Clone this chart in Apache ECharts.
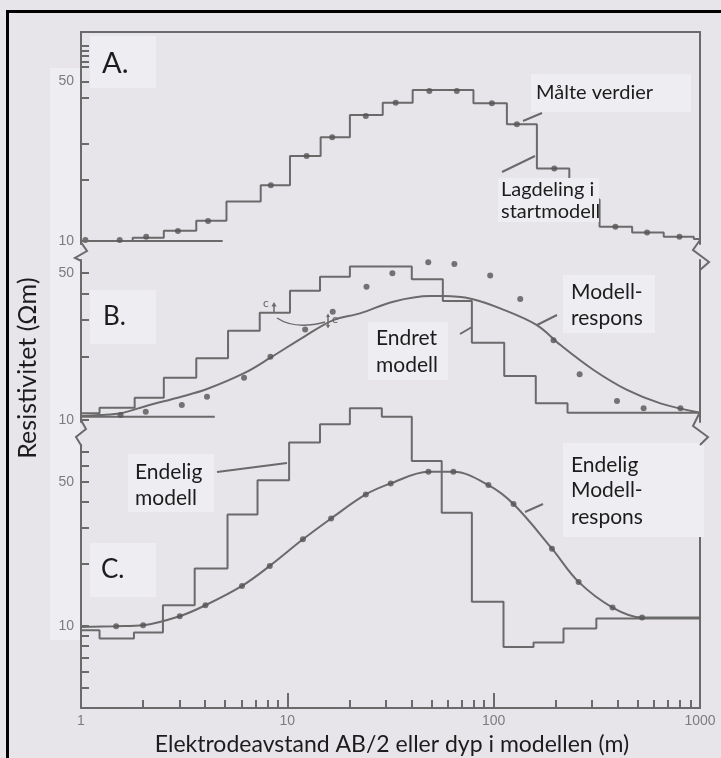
<!DOCTYPE html>
<html><head><meta charset="utf-8">
<script src="https://cdn.jsdelivr.net/npm/echarts@6/dist/echarts.min.js"></script>
<style>html,body{margin:0;padding:0;background:#e7e5ea;} #c{width:721px;height:758px;}</style>
</head><body><div id="c"></div>
<script>
// ---------- data ----------
const xTickMinor = [2,3,4,5,6,7,8,9,20,30,40,50,60,70,80,90,200,300,400,500,600,700,800,900];
const xTickMajor = [10,100];
const xTickLabels = [1,10,100,1000];

const aTicks = [10,18.5,26.8,42.3,50,57.8,61.1,64.8,68.3,71.9];
const bTicks = [10,20,30,40,50];
const cTicks = [5,6,7,8,9,10,20,30,40,50,60,70];
const yTickLabels = [10,50];

// Panel A: measured values and starting model
const aMeasX = [1.05,1.54,2.07,2.95,4.13,8.32,12.4,16.5,24.0,33.5,48.8,66.3,98.0,129.6,196.7,265,389,554,795];
const aMeasY = [10.1,10.1,10.44,11.06,12.24,17.55,23.6,28.5,35.3,40.4,45.5,45.5,40.2,32.5,20.8,15.2,11.55,10.9,10.44];
const aModelX = [1,1.78,2.52,3.62,5.07,7.43,10.3,14.5,20.1,29.0,40.5,79.8,115.9,162,232.6,326,469,667,933,1000];
const aModelY = [10,10.34,11.1,12.27,14.9,17.55,23.6,28.5,35.7,40.4,45.9,40.2,32.5,20.8,15.2,11.55,10.9,10.44,10.2,10.2];
const aBaseX = [1,4.86];
const aBaseY = [10,10];

// Panel B: measured values, changed model, model response
const bMeasX = [1.555,2.06,3.08,4.08,6.17,8.28,12.2,16.6,24.2,32.3,48.2,64.5,96.2,134.5,195,261,396,533,804];
const bMeasY = [10.56,10.95,11.79,12.91,15.9,20.0,27.0,32.8,43.1,50.0,56.4,55.3,48.7,37.7,24.0,16.5,12.3,11.37,11.37];
const bModelX = [1,1.23,1.82,2.52,3.62,5.16,7.35,10.3,14.4,20.1,40.1,56.7,78.4,112.5,160,228,1000];
const bModelY = [10.76,11.44,12.77,15.9,19.67,26.6,32.4,41.3,48.1,53.8,46.8,36.9,23.3,16.2,12.0,10.83,10.83];
const bBaseX = [1,4.45];
const bBaseY = [10.37,10.37];
const bCurveX = [1,1.23,1.555,2.07,3.06,4.05,6.17,8.28,12.2,16.7,22.5,32.6,49.2,57.1,78.4,107.5,162,210,305,443,643,1000];
const bCurveY = [10.45,10.56,10.76,11.66,12.91,14.0,16.7,19.8,25.1,29.9,32.2,36.6,38.9,38.9,37.7,34.0,28.3,22.8,17.3,13.9,12.0,10.83];

// Panel C: final model and final model response
const cMeasX = [1.48,2.0,3.01,4.01,6.03,8.22,11.9,16.3,24.0,31.7,48.3,63.8,94.3,124.8,191.7,258,377,524];
const cMeasY = [9.97,10.08,11.15,12.6,15.64,19.55,26.3,33.2,43.4,49.1,55.9,55.9,48.2,39.0,23.7,16.35,12.28,10.98];
const cModelX = [1,1.23,1.805,2.495,3.556,5.13,7.17,10.2,14.4,20.1,28.7,40.1,56.0,78.4,111.6,156,218,314.5,1000];
const cModelY = [9.53,8.68,9.29,12.6,19.0,34.7,50.9,77.6,95.0,113.6,103.4,63.0,35.4,13.1,7.91,8.31,9.71,10.86,10.86];
const cCurveX = [1,1.48,2.0,3.01,4.01,6.03,8.22,11.9,16.3,24.0,31.7,48.3,63.8,94.3,124.8,191.7,258,377,524,1000];
const cCurveY = [9.89,9.97,10.08,11.15,12.6,15.64,19.55,26.3,33.2,43.4,49.1,55.9,55.9,48.2,39.0,23.7,16.35,12.28,10.98,10.98];

// ---------- styling ----------
const LINE = '#6a6a6a';
const DOT = '#555555';
const LBL = '#7c7c7c';
const TXT = '#1c1c1c';
const BOX = '#eeedf1';
const FONT = 'Lato, "Open Sans", sans-serif';
const NUMFONT = '"Liberation Sans", Arial, sans-serif';
const pairs = (xs, ys) => xs.map((x, i) => [x, ys[i]]);

const grids = [
  {left: 81, right: 21, top: 32, height: 212},
  {left: 81, right: 21, top: 260, height: 162},
  {left: 81, right: 21, top: 445, height: 263}
];
const yRanges = [[9.70, 82.5], [9.78, 57.8], [4, 75.4]];
const yTicks = [aTicks, bTicks, cTicks];

const xAxes = [
  {gridIndex: 0, type: 'log', logBase: 10, min: 1, max: 1000, position: 'top', z: 10,
   axisLine: {show: true, lineStyle: {color: LINE, width: 2}}, axisTick: {show: false}, axisLabel: {show: false}, splitLine: {show: false}},
  {gridIndex: 1, type: 'log', logBase: 10, min: 1, max: 1000, show: false},
  {gridIndex: 2, type: 'log', logBase: 10, min: 1, max: 1000, position: 'bottom', z: 10,
   axisLine: {show: true, lineStyle: {color: LINE, width: 2}},
   axisTick: {show: true, inside: true, length: 8, customValues: xTickMinor, lineStyle: {color: LINE, width: 2}},
   axisLabel: {show: false}, splitLine: {show: false}, minorTick: {show: false}},
  {gridIndex: 2, type: 'log', logBase: 10, min: 1, max: 1000, position: 'bottom', z: 10,
   axisLine: {show: false},
   axisTick: {show: true, inside: true, length: 15, customValues: xTickMajor, lineStyle: {color: LINE, width: 2}},
   axisLabel: {show: true, customValues: xTickLabels, formatter: v => String(Math.round(v)), color: LBL, fontFamily: NUMFONT, fontSize: 14, margin: 6},
   splitLine: {show: false}}
];

const yAxes = [];
for (let g = 0; g < 3; g++) {
  yAxes.push({gridIndex: g, type: 'log', logBase: 10, min: yRanges[g][0], max: yRanges[g][1], position: 'left', z: 10,
    axisLine: {show: true, lineStyle: {color: LINE, width: 2}},
    axisTick: {show: true, inside: true, length: 8, customValues: yTicks[g], lineStyle: {color: LINE, width: 2}},
    axisLabel: {show: true, customValues: yTickLabels, formatter: v => String(Math.round(v)), color: LBL, fontFamily: NUMFONT, fontSize: 14, margin: 7},
    splitLine: {show: false}, minorTick: {show: false}});
  yAxes.push({gridIndex: g, type: 'log', logBase: 10, min: yRanges[g][0], max: yRanges[g][1], position: 'right', z: 10,
    axisLine: {show: true, lineStyle: {color: LINE, width: 2}},
    axisTick: {show: false}, axisLabel: {show: false}, splitLine: {show: false}});
}

const lineS = (xi, yi, data, extra) => Object.assign({
  type: 'line', xAxisIndex: xi, yAxisIndex: yi, data, showSymbol: false, symbol: 'none',
  lineStyle: {color: LINE, width: 2}, itemStyle: {color: LINE}, silent: true, animation: false
}, extra || {});
const dotS = (xi, yi, data) => ({
  type: 'scatter', xAxisIndex: xi, yAxisIndex: yi, data, symbol: 'circle', symbolSize: 6,
  itemStyle: {color: DOT}, silent: true, animation: false, z: 5
});

const series = [
  lineS(0, 0, pairs(aBaseX, aBaseY)),
  lineS(0, 0, pairs(aModelX, aModelY), {step: 'end'}),
  dotS(0, 0, pairs(aMeasX, aMeasY)),
  lineS(1, 2, pairs(bBaseX, bBaseY)),
  lineS(1, 2, pairs(bModelX, bModelY), {step: 'end'}),
  lineS(1, 2, pairs(bCurveX, bCurveY), {smooth: 0.35}),
  dotS(1, 2, pairs(bMeasX, bMeasY)),
  lineS(2, 4, pairs(cModelX, cModelY), {step: 'end', clip: false}),
  lineS(2, 4, pairs(cCurveX, cCurveY), {smooth: 0.35}),
  dotS(2, 4, pairs(cMeasX, cMeasY))
];

// ---------- annotations ----------
const txt = (text, x, y, size, extra) => ({type: 'text', x, y, z: 110,
  style: Object.assign({text, fill: TXT, font: size + 'px ' + FONT, verticalAlign: 'middle', align: 'left'}, extra || {})});
const box = (x, y, w, h) => ({type: 'rect', z: 100, shape: {x, y, width: w, height: h}, style: {fill: BOX}});
const seg = (pts, w) => ({type: 'polyline', z: 110, shape: {points: pts}, style: {stroke: LINE, lineWidth: w || 2, fill: null}});

const graphic = [
  {type: 'rect', z: -10, zlevel: 0, shape: {x: 50, y: 68, width: 30, height: 572}, style: {fill: BOX}},
  box(90, 36, 66, 52), txt('A.', 102, 64, 29),
  box(90, 290, 66, 54), txt('B.', 103, 317, 26),
  box(90, 543, 66, 54), txt('C.', 101, 570, 26),
  box(531, 74, 160, 38), txt('Målte verdier', 536, 93, 20),
  seg([[523, 121], [542, 113]]),
  box(498, 178, 101, 44), txt('Lagdeling i', 501, 190, 20), txt('startmodell', 501, 212, 20),
  seg([[502, 172], [535, 156]]),
  box(368, 322, 80, 58), txt('Endret', 376, 338, 21), txt('modell', 376, 365, 21),
  seg([[460, 334], [472, 327]]),
  box(563, 275, 92, 58), txt('Modell-', 571, 292, 21), txt('respons', 571, 318, 21),
  seg([[537, 325], [557, 315]]),
  box(128, 454, 86, 58), txt('Endelig', 135, 472, 21), txt('modell', 135, 498, 21),
  seg([[217, 472], [287, 463]]),
  box(563, 443, 141, 94), txt('Endelig', 571, 465, 21), txt('Modell-', 571, 490, 21), txt('respons', 571, 517, 21),
  seg([[525, 512], [543, 504]]),
  // c / e annotations
  txt('c', 263, 303, 12, {fill: '#666'}),
  seg([[274, 312], [274, 306]], 1.5),
  {type: 'polygon', z: 110, shape: {points: [[271.5, 306.5], [276.5, 306.5], [274, 302]]}, style: {fill: LINE}},
  {type: 'bezierCurve', z: 110, shape: {x1: 277, y1: 318, cpx1: 295, cpy1: 330, x2: 325, y2: 322}, style: {stroke: LINE, lineWidth: 1.5, fill: null}},
  seg([[328, 316], [328, 326]], 1.5),
  {type: 'polygon', z: 110, shape: {points: [[326, 317], [330, 317], [328, 313.5]]}, style: {fill: LINE}},
  {type: 'polygon', z: 110, shape: {points: [[326, 325], [330, 325], [328, 328.5]]}, style: {fill: LINE}},
  txt('e', 332, 319, 12, {fill: '#666'}),
  // axis breaks
  seg([[81.5, 243], [87, 251], [75, 258], [81.5, 261]]),
  seg([[700, 240], [693, 250], [709, 262], [700, 270]]),
  seg([[81.5, 421], [86, 429], [76, 437], [81.5, 446]]),
  seg([[700, 412], [693, 426], [708, 437], [700, 445]]),
  // axis titles
  {type: 'text', x: 28, y: 368, rotation: Math.PI / 2, z: 110,
   style: {text: 'Resistivitet (Ωm)', fill: TXT, font: '25px ' + FONT, align: 'center', verticalAlign: 'middle'}},
  txt('Elektrodeavstand AB/2 eller dyp i modellen (m)', 392, 745, 23, {align: 'center'}),
  // outer frame
  {type: 'rect', z: 120, shape: {x: 7.5, y: 11.5, width: 730, height: 760}, style: {fill: null, stroke: '#000', lineWidth: 3}}
];

const chart = echarts.init(document.getElementById('c'), null, {renderer: 'canvas'});
chart.setOption({
  backgroundColor: '#e7e5ea',
  animation: false,
  grid: grids,
  xAxis: xAxes,
  yAxis: yAxes,
  series,
  graphic
});
</script></body></html>
